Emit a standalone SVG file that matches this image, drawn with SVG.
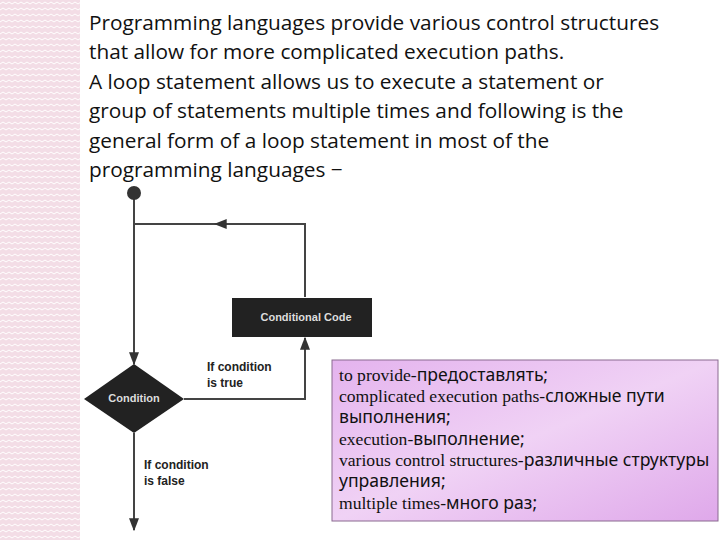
<svg xmlns="http://www.w3.org/2000/svg" width="720" height="540" viewBox="0 0 720 540">
<defs>
<pattern id="zz" width="6" height="6" patternUnits="userSpaceOnUse">
<rect width="6" height="6" fill="#f3dde6"/>
<path d="M0 4 L3 2 L6 4" stroke="#fff" stroke-width="1" fill="none"/>
</pattern>
<linearGradient id="pg" x1="0" y1="0" x2="1" y2="1">
<stop offset="0" stop-color="#e4b3ee"/><stop offset="0.5" stop-color="#f0d2f5"/><stop offset="1" stop-color="#dfa8ea"/>
</linearGradient>
<marker id="ah" viewBox="0 0 10 10" refX="9" refY="5" markerWidth="13" markerHeight="10" orient="auto" markerUnits="userSpaceOnUse" preserveAspectRatio="none">
<path d="M0 0 L10 5 L0 10 Z" fill="#333"/>
</marker>
</defs>
<style>
.t{font-family:"Open Sans","DejaVu Sans",sans-serif;font-size:20.8px;fill:#111}
.l{font-family:"Liberation Sans",Arial,sans-serif;font-size:12px;font-weight:bold;fill:#222}
.w{font-family:"Liberation Sans",Arial,sans-serif;font-size:11px;font-weight:bold;fill:#ddd}
.c{stroke:#444;stroke-width:2;fill:none}
.g{font-family:"Liberation Serif","Noto Sans",serif;font-size:17.6px;fill:#111}
</style>
<rect width="720" height="540" fill="#fff"/>
<rect x="0" y="0" width="80" height="540" fill="url(#zz)"/>
<g id="intro" class="t">
<text x="89" y="30">Programming languages provide various control structures</text>
<text x="89" y="59">that allow for more complicated execution paths.</text>
<text x="89" y="89">A loop statement allows us to execute a statement or</text>
<text x="89" y="118">group of statements multiple times and following is the</text>
<text x="89" y="148">general form of a loop statement in most of the</text>
<text x="89" y="177">programming languages −</text>
</g>
<g id="connectors">
<line class="c" x1="134" y1="193" x2="134" y2="364" marker-end="url(#ah)"/>
<polyline class="c" points="305,297 305,224 134,224"/>
<line class="c" x1="260" y1="224" x2="215" y2="224" marker-end="url(#ah)"/>
<polyline class="c" points="184,399 305,399 305,338" marker-end="url(#ah)"/>
<line class="c" x1="134" y1="433" x2="134" y2="530" marker-end="url(#ah)"/>
</g>
<g id="start"><circle cx="134" cy="193" r="7" fill="#333"/></g>
<g id="code"><rect x="232" y="298" width="140" height="39" fill="#222"/><text class="w" x="306" y="321" text-anchor="middle">Conditional Code</text></g>
<g id="cond"><polygon points="134,364 184,399 134,433 84,399" fill="#222"/><text class="w" x="134" y="402" text-anchor="middle">Condition</text></g>
<g id="labels" class="l">
<text x="207" y="371">If condition</text><text x="207" y="387">is true</text>
<text x="144" y="469">If condition</text><text x="144" y="485">is false</text>
</g>
<g id="gloss">
<rect x="332" y="360" width="386" height="161" fill="url(#pg)" stroke="#8a6a90" stroke-width="1"/>
<g class="g">
<text x="339" y="381">to provide-<tspan font-family="Noto Sans,sans-serif">предоставлять;</tspan></text>
<text x="339" y="402">complicated execution paths-<tspan font-family="Noto Sans,sans-serif">сложные пути</tspan></text>
<text x="339" y="423" font-family="Noto Sans,sans-serif">выполнения;</text>
<text x="339" y="445">execution-<tspan font-family="Noto Sans,sans-serif">выполнение;</tspan></text>
<text x="339" y="466">various control structures-<tspan font-family="Noto Sans,sans-serif">различные структуры</tspan></text>
<text x="339" y="487" font-family="Noto Sans,sans-serif">управления;</text>
<text x="339" y="509">multiple times-<tspan font-family="Noto Sans,sans-serif">много раз;</tspan></text>
</g>
</g>
</svg>
